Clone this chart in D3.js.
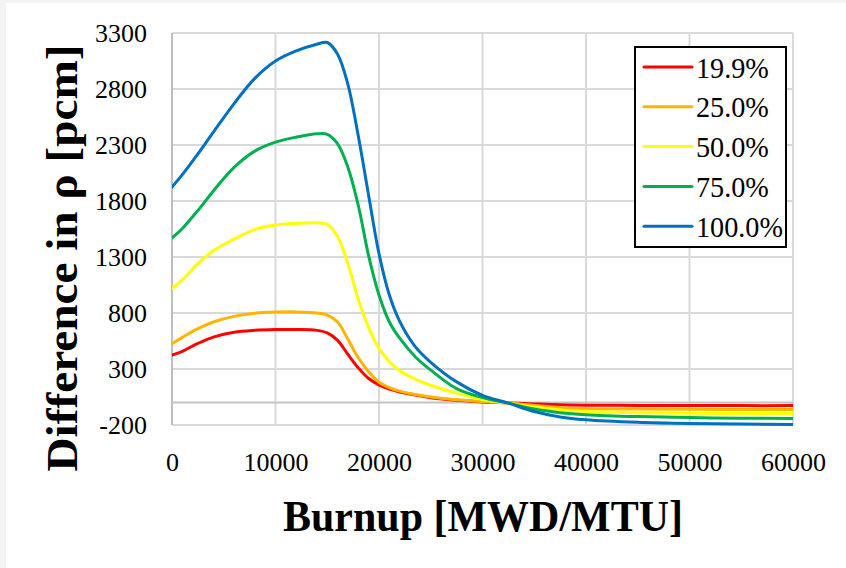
<!DOCTYPE html>
<html>
<head>
<meta charset="utf-8">
<script src="https://cdn.jsdelivr.net/npm/d3@7"></script>
<style>
  html, body { margin: 0; padding: 0; background: #f4f4f4; }
  svg { display: block; }
  text { font-family: "Liberation Serif", "Times New Roman", serif; fill: #000; }
</style>
</head>
<body>
<div id="chart"></div>
<script>
// burnup grid (MWD/MTU) and reactivity differences (pcm)
const burnup = [0, 1000, 2500, 4000, 6000, 8000, 10000, 12000, 14000, 15000, 16000, 17000, 18000,
  19000, 20000, 21000, 22000, 23500, 25000, 27500, 30000, 32500, 35000, 37500, 40000, 45000, 50000, 55000, 60000];

const s199 = [425, 458, 528, 585, 628, 645, 652, 653, 645, 622, 555, 430, 310,
  215, 158, 120, 95, 68, 44, 20, 6, -3, -12, -19, -23, -25, -26, -27, -27];
const s250 = [525, 582, 660, 720, 770, 797, 808, 810, 800, 782, 720, 565, 400,
  275, 182, 134, 102, 72, 50, 25, 9, -3, -25, -45, -55, -58, -60, -61, -62];
const s500 = [1020, 1095, 1240, 1355, 1460, 1545, 1585, 1600, 1605, 1592, 1480, 1240, 920,
  670, 485, 365, 285, 210, 155, 85, 28, -5, -38, -65, -80, -90, -95, -97, -98];
const s750 = [1470, 1555, 1715, 1890, 2100, 2245, 2325, 2370, 2400, 2395, 2310, 2100, 1760,
  1310, 960, 720, 575, 410, 290, 125, 45, -5, -58, -90, -108, -125, -134, -139, -142];
const s1000 = [1925, 2035, 2220, 2415, 2670, 2895, 3050, 3140, 3200, 3215, 3110, 2840, 2380,
  1850, 1330, 960, 725, 500, 360, 185, 65, -5, -80, -128, -153, -176, -187, -192, -195];

const seriesNames = ['19.9%', '25.0%', '50.0%', '75.0%', '100.0%'];
const seriesValues = [s199, s250, s500, s750, s1000];
const seriesColors = ['#ff0000', '#ffb400', '#ffff00', '#00b050', '#0070c0'];

const xTicks = [0, 10000, 20000, 30000, 40000, 50000, 60000];
const yTicks = [-200, 300, 800, 1300, 1800, 2300, 2800, 3300];

const width = 846;
const height = 568;
const plot = { left: 172, right: 793, top: 33, bottom: 425 };

const svg = d3.select('#chart').append('svg')
  .attr('width', width)
  .attr('height', height);

// white card with a thin grey frame on the top/left edges
svg.append('rect')
  .attr('x', 6).attr('y', 3)
  .attr('width', width - 6).attr('height', height - 3)
  .attr('fill', '#ffffff');

const x = d3.scaleLinear().domain([0, 60000]).range([plot.left, plot.right]);
const y = d3.scaleLinear().domain([-200, 3300]).range([plot.bottom, plot.top]);

// gridlines
const grid = svg.append('g').attr('class', 'grid');
grid.selectAll('line.h')
  .data(yTicks)
  .enter().append('line')
  .attr('x1', plot.left).attr('x2', plot.right)
  .attr('y1', d => y(d)).attr('y2', d => y(d))
  .attr('stroke', '#d9d9d9').attr('stroke-width', 2);
grid.selectAll('line.v')
  .data(xTicks)
  .enter().append('line')
  .attr('y1', plot.top).attr('y2', plot.bottom)
  .attr('x1', d => x(d)).attr('x2', d => x(d))
  .attr('stroke', d => d === 0 ? '#bfbfbf' : '#d9d9d9').attr('stroke-width', 2);

// horizontal axis line sits at zero
grid.append('line')
  .attr('x1', plot.left).attr('x2', plot.right)
  .attr('y1', y(0)).attr('y2', y(0))
  .attr('stroke', '#c4c4c4').attr('stroke-width', 2);

// tick labels (plain hyphen for negatives, like the original)
const fmt = d => String(d);
const xAxis = d3.axisBottom(x).tickValues(xTicks).tickSize(0).tickPadding(0).tickFormat(fmt);
const yAxis = d3.axisLeft(y).tickValues(yTicks).tickSize(0).tickPadding(0).tickFormat(fmt);

const gx = svg.append('g').attr('transform', `translate(0,${plot.bottom})`).call(xAxis);
gx.select('.domain').remove();
gx.selectAll('text')
  .attr('font-size', 26)
  .attr('fill', '#000')
  .attr('dy', null)
  .attr('y', 46);

const gy = svg.append('g').attr('transform', `translate(147,0)`).call(yAxis);
gy.select('.domain').remove();
gy.selectAll('text')
  .attr('font-size', 26)
  .attr('fill', '#000')
  .attr('dy', '0.33em');

// series lines (smoothed like the spreadsheet chart)
const line = d3.line()
  .x(d => x(d[0]))
  .y(d => y(d[1]))
  .curve(d3.curveCatmullRom.alpha(0.5));

svg.append('defs').append('clipPath').attr('id', 'plotClip')
  .append('rect')
  .attr('x', plot.left).attr('y', plot.top - 4)
  .attr('width', plot.right - plot.left).attr('height', plot.bottom - plot.top + 8);

svg.append('g').attr('clip-path', 'url(#plotClip)')
  .selectAll('path.series')
  .data(seriesValues)
  .enter().append('path')
  .attr('class', 'series')
  .attr('d', vals => line(burnup.map((b, i) => [b, vals[i]])))
  .attr('fill', 'none')
  .attr('stroke', (d, i) => seriesColors[i])
  .attr('stroke-width', 3)
  .attr('stroke-linejoin', 'round')
  .attr('stroke-linecap', 'round');

// axis titles
svg.append('text')
  .attr('x', (283 + 683) / 2)
  .attr('y', 531)
  .attr('text-anchor', 'middle')
  .attr('font-size', 45)
  .attr('font-weight', 'bold')
  .attr('textLength', 400)
  .attr('lengthAdjust', 'spacingAndGlyphs')
  .text('Burnup [MWD/MTU]');

svg.append('text')
  .attr('transform', 'translate(77,258) rotate(-90)')
  .attr('text-anchor', 'middle')
  .attr('font-size', 45)
  .attr('font-weight', 'bold')
  .attr('textLength', 427)
  .attr('lengthAdjust', 'spacingAndGlyphs')
  .text('Difference in ρ [pcm]');

// legend
const legend = svg.append('g').attr('transform', 'translate(635,47)');
legend.append('rect')
  .attr('width', 151).attr('height', 200)
  .attr('fill', '#ffffff')
  .attr('stroke', '#000').attr('stroke-width', 2);

const items = legend.selectAll('g.item')
  .data(seriesNames)
  .enter().append('g')
  .attr('class', 'item')
  .attr('transform', (d, i) => `translate(0,${20 + i * 39.8})`);

items.append('line')
  .attr('x1', 9).attr('x2', 57)
  .attr('stroke', (d, i) => seriesColors[i])
  .attr('stroke-width', 3)
  .attr('stroke-linecap', 'round');

items.append('text')
  .attr('x', 61)
  .attr('dy', '0.35em')
  .attr('font-size', 30)
  .text(d => d)
  .each(function () {
    const len = this.getComputedTextLength();
    d3.select(this).attr('textLength', len * 0.94).attr('lengthAdjust', 'spacingAndGlyphs');
  });
</script>
</body>
</html>
